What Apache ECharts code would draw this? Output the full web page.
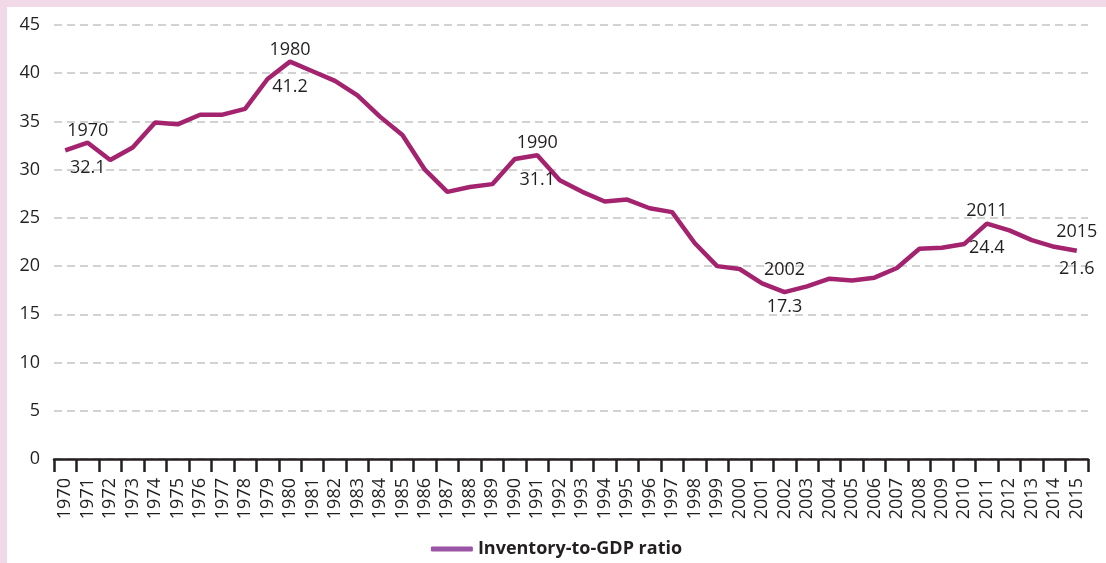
<!DOCTYPE html>
<html>
<head>
<meta charset="utf-8">
<script src="https://cdn.jsdelivr.net/npm/echarts@6/dist/echarts.min.js"></script>
<style>
  html, body { margin: 0; padding: 0; background: #f1d9e7; }
  #chart { position: absolute; left: 7px; top: 7px; width: 1099px; height: 556px; background: #fff; }
</style>
</head>
<body>
<div id="chart"></div>
<script>
// inventory-to-GDP ratio, 1970-2015
const years = [];
for (let y = 1970; y <= 2015; y++) years.push(String(y));

const ratio = [
  32.0, 32.8, 31.0, 32.3, 34.9, 34.7, 35.7, 35.7, 36.3, 39.4,
  41.2, 40.2, 39.2, 37.7, 35.5, 33.6, 30.0, 27.7, 28.2, 28.5,
  31.1, 31.5, 28.9, 27.7, 26.7, 26.9, 26.0, 25.6, 22.4, 20.0,
  19.7, 18.2, 17.3, 17.9, 18.7, 18.5, 18.8, 19.8, 21.8, 21.9,
  22.3, 24.4, 23.7, 22.7, 22.0, 21.6
];

// annotated points: index in series, year text, value text
const noteIdx = [1, 10, 21, 32, 41, 45];
const noteYears = ['1970', '1980', '1990', '2002', '2011', '2015'];
const noteValues = ['32.1', '41.2', '31.1', '17.3', '24.4', '21.6'];

const yTicks = { min: 0, max: 45, interval: 5 };
const seriesName = 'Inventory-to-GDP ratio';

const font = "'Open Sans', 'Noto Sans', sans-serif";
const textColor = '#231f20';

const chart = echarts.init(document.getElementById('chart'));

// small vertical nudges so the labels sit like the original
const nudge = [7, 7, 6, -4, 6, 0];

const notePoints = noteIdx.map((idx, k) => ({
  coord: [years[idx], ratio[idx]],
  label: {
    offset: [0, nudge[k]],
    formatter: `{y|${noteYears[k]}}\n{v|${noteValues[k]}}`
  }
}));

chart.setOption({
  animation: false,
  grid: { left: 47, right: 18, top: 18, bottom: 104 },
  legend: {
    bottom: 0,
    left: 'center',
    icon: 'roundRect',
    itemWidth: 42,
    itemHeight: 5,
    itemGap: 12,
    textStyle: { fontFamily: font, fontSize: 18, fontWeight: 'bold', color: textColor },
    data: [{ name: seriesName, itemStyle: { color: '#9b55a6' } }]
  },
  xAxis: {
    type: 'category',
    data: years,
    boundaryGap: true,
    axisLine: { lineStyle: { color: '#231f20', width: 2.5 } },
    axisTick: { show: true, interval: 0, length: 13, lineStyle: { color: '#231f20', width: 2.5 } },
    axisLabel: { interval: 0, rotate: 90, margin: 19, fontFamily: font, fontSize: 18, color: textColor }
  },
  yAxis: {
    type: 'value',
    min: yTicks.min,
    max: yTicks.max,
    interval: yTicks.interval,
    axisLine: { show: false },
    axisTick: { show: false },
    axisLabel: { margin: 14, fontFamily: font, fontSize: 18, color: textColor },
    splitLine: { lineStyle: { color: '#c4c4c4', width: 1.5, type: [8, 5] } }
  },
  series: [{
    name: seriesName,
    type: 'line',
    data: ratio,
    symbol: 'none',
    lineStyle: { color: '#a4236f', width: 4.5 },
    itemStyle: { color: '#a4236f' },
    z: 3,
    markPoint: {
      symbol: 'circle',
      symbolSize: 2,
      itemStyle: { color: 'rgba(0,0,0,0)' },
      label: {
        show: true,
        position: 'inside',
        rich: {
          y: { fontSize: 18, fontFamily: font, color: textColor, lineHeight: 37 },
          v: { fontSize: 18, fontFamily: font, color: textColor, lineHeight: 37 }
        }
      },
      data: notePoints
    }
  }]
});
</script>
</body>
</html>
